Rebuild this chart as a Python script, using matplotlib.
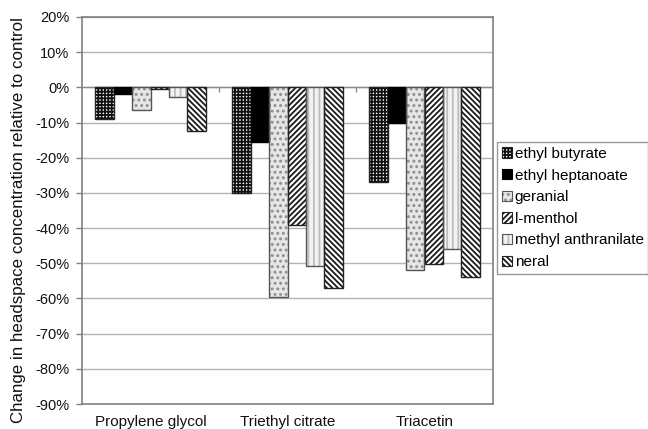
import matplotlib
matplotlib.use("Agg")
import matplotlib.pyplot as plt
import numpy as np
from matplotlib.patches import Patch
from matplotlib.ticker import FuncFormatter

plt.rcParams['font.family'] = ['Liberation Sans', 'DejaVu Sans']
plt.rcParams['hatch.linewidth'] = 1.3

# Plasticiser carriers and flavour compounds
carriers = ["Propylene glycol", "Triethyl citrate", "Triacetin"]
compounds = ["ethyl butyrate", "ethyl heptanoate", "geranial",
             "l-menthol", "methyl anthranilate", "neral"]

# Change in headspace concentration (%) per compound, across carriers
ethyl_butyrate = [-9.0, -30.0, -27.0]
ethyl_heptanoate = [-2.0, -15.5, -10.2]
geranial = [-6.5, -59.5, -52.0]
l_menthol = [-0.5, -39.0, -50.2]
methyl_anthranilate = [-2.8, -50.8, -46.0]
neral = [-12.5, -57.0, -53.8]
series = [ethyl_butyrate, ethyl_heptanoate, geranial,
          l_menthol, methyl_anthranilate, neral]

y_ticks = list(range(-90, 21, 10))

# fill colour, hatch, hatch colour, outline colour
styles = [
    ("white", "+++++", "#111111", "#222222"),
    ("black", "", "black", "black"),
    ("#e6e6e6", "...", "#8c8c8c", "#555555"),
    ("white", "//////", "#1a1a1a", "#222222"),
    ("#f2f2f2", "|||", "#bdbdbd", "#555555"),
    ("white", "\\\\\\\\\\\\", "#1a1a1a", "#222222"),
]

fig = plt.figure(figsize=(6.48, 4.29), dpi=100)
ax = fig.add_axes([82 / 648, 1 - 404 / 429, 411 / 648, 387 / 429])

x = np.arange(len(carriers))
bw = 0.135
n = len(series)
handles = []
for i, (vals, (fc, hatch, hc, ec)) in enumerate(zip(series, styles)):
    pos = x + (i - (n - 1) / 2) * bw
    ax.bar(pos, vals, bw, color=fc, hatch=hatch, edgecolor=hc,
           linewidth=0, zorder=3)
    ax.bar(pos, vals, bw, fill=False, edgecolor=ec, linewidth=1.0, zorder=4)
    handles.append((Patch(facecolor=fc, hatch=hatch, edgecolor=hc, linewidth=0),
                    Patch(fill=False, edgecolor=ec, linewidth=0.8)))

ax.set_xlim(-0.5, len(carriers) - 0.5)
ax.set_ylim(-90, 20)
ax.set_yticks(y_ticks)
ax.yaxis.set_major_formatter(FuncFormatter(lambda v, p: f"{v:.0f}%"))
ax.tick_params(axis='y', direction='out', length=4, width=1, color='#808080',
               labelsize=10.5, pad=5, labelcolor='#111111')
ax.set_xticks(x)
ax.set_xticklabels(carriers)
ax.tick_params(axis='x', length=0, labelsize=11, pad=8, labelcolor='#111111')

ax.yaxis.grid(True, color='#b3b3b3', linewidth=1, zorder=0)
ax.set_axisbelow(True)
for s in ax.spines.values():
    s.set_color('#808080')
    s.set_linewidth(1.2)

# category axis at zero with separator ticks
ax.axhline(0, color='#8c8c8c', linewidth=1, zorder=2)
ax.vlines(x[:-1] + 0.5, -1.3, 0, color='#8c8c8c', linewidth=1, zorder=2)

fig.text(19 / 648, 1 - 220 / 429,
         "Change in headspace concentration relative to control",
         rotation=90, ha='center', va='center', fontsize=12.2, color='#111111')

leg = fig.legend(handles, compounds, loc='center left',
                 bbox_to_anchor=(497 / 648, 1 - 208 / 429),
                 fontsize=11, frameon=True, fancybox=False,
                 handlelength=0.65, handleheight=0.65, handletextpad=0.2,
                 labelspacing=0.5, borderpad=0.3, borderaxespad=0,
                 edgecolor='#808080')
leg.get_frame().set_linewidth(1.0)

fig.savefig("out.png", dpi=100)
